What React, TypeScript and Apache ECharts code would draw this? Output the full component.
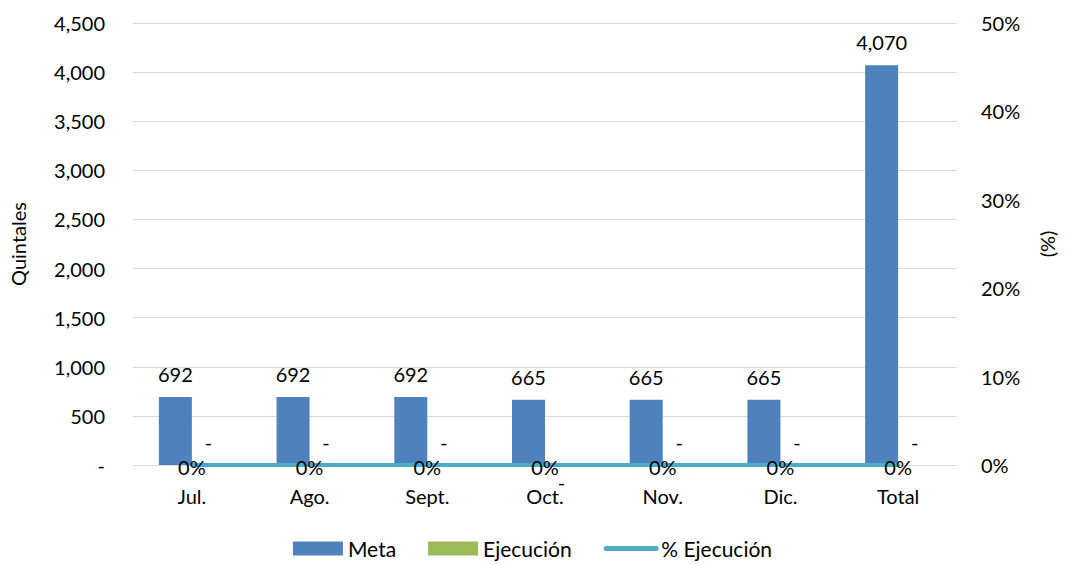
import React, { useEffect, useRef } from "react";
import * as echarts from "echarts";

const categories = ["Jul.", "Ago.", "Sept.", "Oct.", "Nov.", "Dic.", "Total"];
const metaValues = [692, 692, 692, 665, 665, 665, 4070];
const ejecucionValues = [0, 0, 0, 0, 0, 0, 0];
const pctEjecucion = [0, 0, 0, 0, 0, 0, 0];

const FONT = "Lato, 'Liberation Sans', sans-serif";

export default function App() {
  const ref = useRef<HTMLDivElement>(null);
  useEffect(() => {
    const chart = echarts.init(ref.current!, null, { renderer: "svg" });
    const txt = { fontFamily: FONT, fontSize: 20, color: "#000" };
    chart.setOption({
      animation: false,
      textStyle: { fontFamily: FONT },
      grid: { left: 130, right: 107, top: 23, bottom: 100 },
      legend: {
        top: 533,
        left: "center",
        itemWidth: 50,
        itemHeight: 14,
        itemGap: 32,
        textStyle: { ...txt, fontSize: 21 },
        data: [
          { name: "Meta", icon: "rect" },
          { name: "Ejecución", icon: "rect" },
          {
            name: "% Ejecución",
            itemStyle: { opacity: 0 },
            lineStyle: { width: 5, cap: "round", color: "#4BACC6" },
          },
        ],
      },
      xAxis: {
        type: "category",
        data: categories,
        axisTick: { show: false },
        axisLine: { lineStyle: { color: "#D9D9D9", width: 1 } },
        axisLabel: { ...txt, margin: 21 },
      },
      yAxis: [
        {
          type: "value",
          min: 0,
          max: 4500,
          interval: 500,
          name: "Quintales",
          nameLocation: "middle",
          nameGap: 105,
          nameTextStyle: { ...txt },
          axisLabel: {
            ...txt,
            margin: 28,
            formatter: (v: number) => (v === 0 ? "-" : v.toLocaleString("en-US")),
          },
          splitLine: { lineStyle: { color: "#D9D9D9" } },
          axisLine: { show: false },
          axisTick: { show: false },
        },
        {
          type: "value",
          min: 0,
          max: 0.5,
          interval: 0.1,
          name: "(%)",
          nameLocation: "middle",
          nameGap: 80,
          nameRotate: 90,
          nameTextStyle: { ...txt },
          axisLabel: {
            ...txt,
            margin: 24,
            formatter: (v: number) => Math.round(v * 100) + "%",
          },
          splitLine: { show: false },
          axisLine: { show: false },
          axisTick: { show: false },
        },
      ],
      series: [
        {
          name: "Meta",
          type: "bar",
          data: metaValues,
          barWidth: 33,
          barGap: "0%",
          itemStyle: { color: "#4F81BD" },
          label: {
            show: true,
            position: "top",
            distance: 13,
            ...txt,
            formatter: (p: any) => p.value.toLocaleString("en-US"),
          },
        },
        {
          name: "Ejecución",
          type: "bar",
          data: ejecucionValues.map((v, i) =>
            i === 3 ? { value: v, label: { offset: [0, 40] } } : v
          ),
          barWidth: 33,
          itemStyle: { color: "#9BBB59" },
          label: {
            show: true,
            position: "top",
            distance: 13,
            ...txt,
            formatter: (p: any) => (p.value === 0 ? "-" : p.value.toLocaleString("en-US")),
          },
        },
        {
          name: "% Ejecución",
          type: "line",
          yAxisIndex: 1,
          data: pctEjecucion,
          symbol: "circle",
          symbolSize: 0.01,
          showSymbol: true,
          lineStyle: { color: "#4BACC6", width: 4, cap: "round" },
          itemStyle: { color: "#4BACC6" },
          z: 5,
          label: {
            show: true,
            position: "inside",
            offset: [0, 2],
            ...txt,
            formatter: (p: any) => Math.round(p.value * 100) + "%",
          },
        },
      ],
    });
    return () => chart.dispose();
  }, []);
  return (
    <div
      ref={ref}
      style={{ position: "absolute", left: 0, top: 0, width: 1065, height: 565 }}
    />
  );
}
